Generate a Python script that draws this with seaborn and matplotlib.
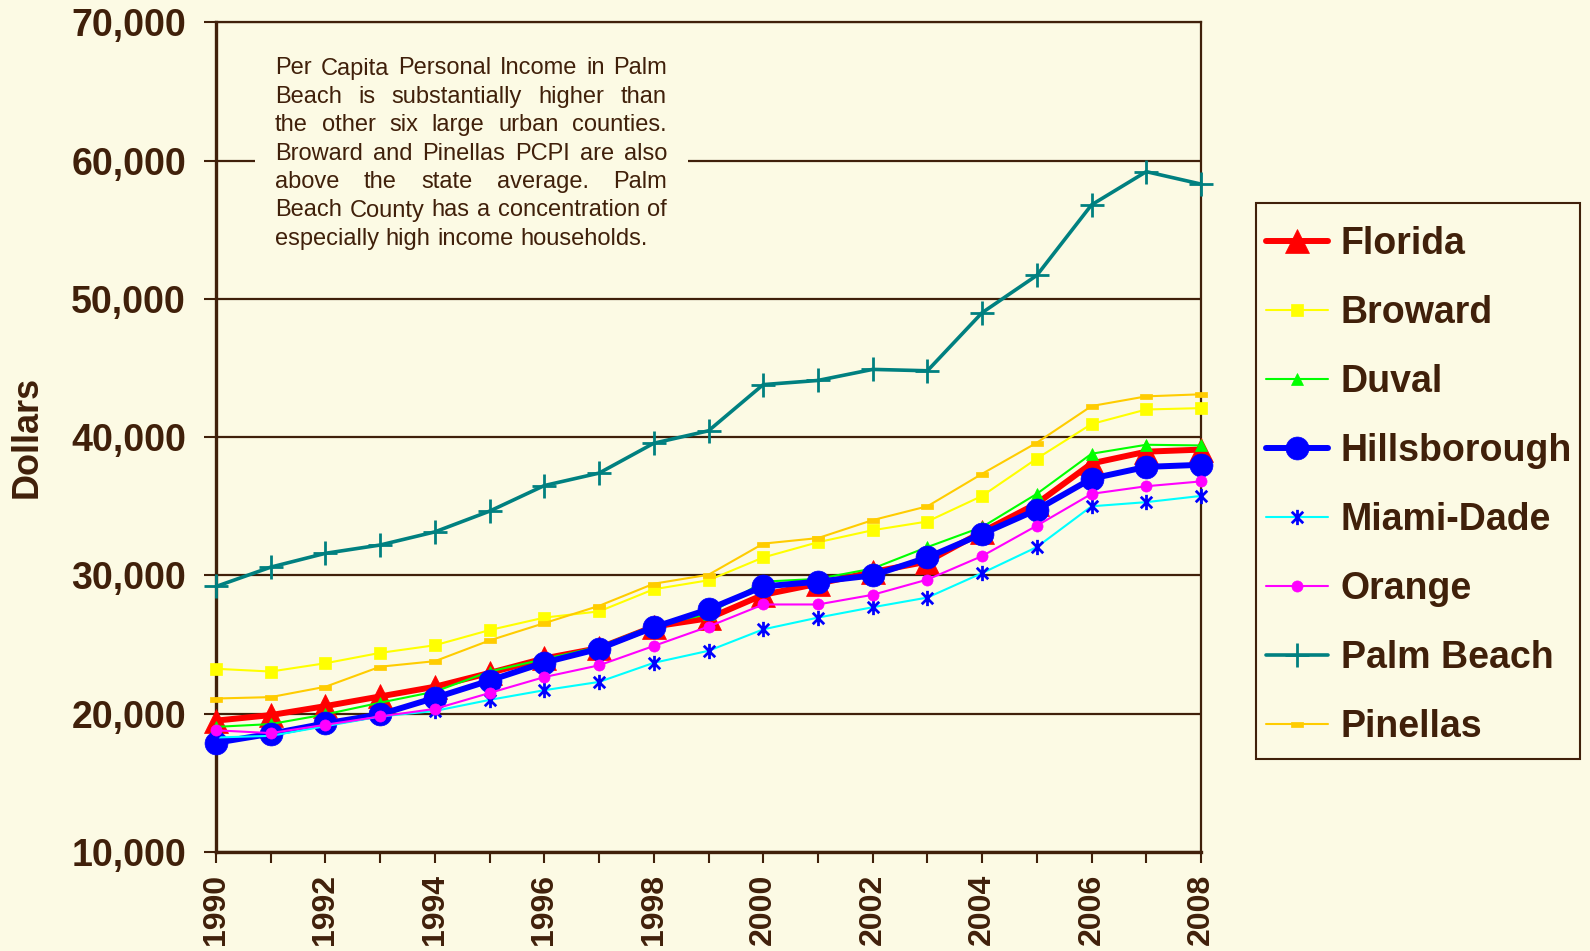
import matplotlib
matplotlib.use('Agg')
import matplotlib.pyplot as plt
import matplotlib.ticker as mticker
from matplotlib.path import Path
from matplotlib.patches import Rectangle
import pandas as pd
import seaborn as sns

# Per capita personal income, 1990-2008
years = list(range(1990, 2009))
florida = [19500, 19900, 20550, 21250, 21950, 22950, 24000, 24750, 26300, 26900,
           28600, 29400, 30250, 31000, 33150, 35200, 38100, 38950, 39100]
broward = [23250, 23050, 23650, 24400, 24950, 26050, 26950, 27400, 29000, 29650,
           31300, 32400, 33270, 33900, 35750, 38450, 40950, 42000, 42100]
duval = [19050, 19250, 19950, 20800, 21600, 23050, 23950, 24850, 26400, 27200,
         29550, 29750, 30500, 32050, 33500, 35900, 38800, 39450, 39400]
hillsborough = [17900, 18550, 19300, 19950, 21150, 22400, 23700, 24700, 26250, 27550,
                29200, 29550, 30000, 31300, 33000, 34750, 37000, 37850, 38000]
miami_dade = [18280, 18400, 19100, 19800, 20200, 21000, 21700, 22300, 23680, 24550,
              26100, 26950, 27700, 28400, 30170, 32050, 35000, 35300, 35750]
orange = [18800, 18600, 19200, 19800, 20350, 21500, 22650, 23500, 24900, 26300,
          27900, 27900, 28600, 29700, 31400, 33600, 35900, 36450, 36800]
palm_beach = [29200, 30600, 31600, 32200, 33150, 34650, 36500, 37400, 39560, 40460,
              43800, 44100, 44900, 44800, 49000, 51700, 56800, 59200, 58300]
pinellas = [21100, 21200, 21950, 23400, 23800, 25300, 26550, 27800, 29400, 30050,
            32300, 32700, 34000, 35000, 37350, 39600, 42250, 42950, 43100]

series_names = ['Florida', 'Broward', 'Duval', 'Hillsborough', 'Miami-Dade',
                'Orange', 'Palm Beach', 'Pinellas']
series_values = [florida, broward, duval, hillsborough, miami_dade,
                 orange, palm_beach, pinellas]

note_lines = ["Per Capita Personal Income in Palm",
              "Beach is substantially higher than",
              "the other six large urban counties.",
              "Broward and Pinellas PCPI are also",
              "above the state average.   Palm",
              "Beach County has a concentration of",
              "especially high income households."]

df = pd.DataFrame({'year': years * len(series_names),
                   'county': [n for n in series_names for _ in years],
                   'income': [v for vals in series_values for v in vals]})

W, H = 1590, 951
BG = '#FCFAE4'
INK = '#40200A'

asterisk = Path([(0, -1), (0, 1), (-0.75, -0.75), (0.75, 0.75), (-0.75, 0.75), (0.75, -0.75)],
                [Path.MOVETO, Path.LINETO, Path.MOVETO, Path.LINETO, Path.MOVETO, Path.LINETO])
dash = Path([(-1, -0.45), (1, -0.45), (1, 0.45), (-1, 0.45), (-1, -0.45)],
            [Path.MOVETO, Path.LINETO, Path.LINETO, Path.LINETO, Path.CLOSEPOLY])

# line colour, marker, marker colour, line width, marker size
styles = {
    'Florida':      ('#FF0000', '^', '#FF0000', 4.3, 17),
    'Broward':      ('#FFFF00', 's', '#FFFF00', 1.5, 8.5),
    'Duval':        ('#00FF00', '^', '#00FF00', 1.5, 9),
    'Hillsborough': ('#0000FF', 'o', '#0000FF', 4.3, 16.5),
    'Miami-Dade':   ('#00FFFF', asterisk, '#0000FF', 1.5, 11),
    'Orange':       ('#FF00FF', 'o', '#FF00FF', 1.5, 8),
    'Palm Beach':   ('#008080', '+', '#008080', 2.6, 17),
    'Pinellas':     ('#FFCC00', dash, '#FFCC00', 1.5, 8),
}

sns.set_style('white')
plt.rcParams['font.family'] = ['Liberation Sans', 'DejaVu Sans']

fig = plt.figure(figsize=(W / 100, H / 100), dpi=100, facecolor=BG)
ax = fig.add_axes([216 / W, 1 - 852 / H, 985 / W, (852 - 22.3) / H])
ax.set_facecolor(BG)

for name in series_names:
    color, marker, mcolor, lw, ms = styles[name]
    sub = df[df['county'] == name]
    sns.lineplot(data=sub, x='year', y='income', ax=ax, label=name, color=color,
                 linewidth=lw, marker=marker, markersize=ms,
                 markerfacecolor=mcolor, markeredgecolor=mcolor,
                 markeredgewidth=2.0 if name in ('Palm Beach', 'Miami-Dade') else 0.5,
                 clip_on=False, zorder=3)

ax.set_xlim(1990, 2008)
ax.set_ylim(10000, 70000)
ax.xaxis.set_major_locator(mticker.MultipleLocator(2))
ax.xaxis.set_minor_locator(mticker.MultipleLocator(1))
ax.yaxis.set_major_locator(mticker.MultipleLocator(10000))
ax.yaxis.set_major_formatter(mticker.StrMethodFormatter('{x:,.0f}'))

ax.grid(axis='y', color=INK, linewidth=1.6)
ax.grid(axis='x', visible=False)
ax.set_axisbelow(True)

for side in ['left', 'bottom']:
    ax.spines[side].set_color(INK)
    ax.spines[side].set_linewidth(2.4)
for side in ['right', 'top']:
    ax.spines[side].set_color(INK)
    ax.spines[side].set_linewidth(1.6)

ax.tick_params(axis='y', which='major', direction='out', length=8.6, width=1.5,
               color=INK, labelcolor=INK, labelsize=27, pad=13, left=True)
ax.tick_params(axis='x', which='both', direction='out', length=7.7, width=1.5,
               color=INK, labelcolor=INK, labelsize=23, pad=8, bottom=True)
for lab in ax.get_yticklabels():
    lab.set_fontweight('bold')
for lab in ax.get_xticklabels():
    lab.set_fontweight('bold')
    lab.set_rotation(90)

ax.set_xlabel('')
ax.set_ylabel('Dollars', fontsize=26, fontweight='bold', color=INK, va='center')
ax.yaxis.set_label_coords(-0.1915, 0.5)

# legend: frame drawn as a plain rectangle behind the axes, entries placed inside it
fig.add_artist(Rectangle((1255.6 / W, 1 - 758.6 / H), (1580 - 1255.6) / W, (758.6 - 203) / H,
                         transform=fig.transFigure, facecolor=BG, edgecolor=INK,
                         linewidth=1.5, zorder=-1))
leg = ax.legend(loc='upper left', bbox_to_anchor=(1265.8 / W, 1 - 226 / H),
                bbox_transform=fig.transFigure, borderaxespad=0, borderpad=0,
                frameon=False, prop={'size': 27, 'weight': 'bold'},
                labelspacing=0.88, handlelength=1.67, numpoints=1, handletextpad=0.33)
for t in leg.get_texts():
    t.set_color(INK)

# note box, justified like the original text block
fig.add_artist(Rectangle((255 / W, 1 - 255 / H), (688 - 255) / W, (255 - 40) / H,
                         transform=fig.transFigure, facecolor=BG, edgecolor='none', zorder=1))
fig.canvas.draw()
renderer = fig.canvas.get_renderer()
fs = 17
left, right = 275, 667
base0, pitch = 74.5, 28.4
for i, line in enumerate(note_lines):
    words = line.split()
    y = 1 - (base0 + i * pitch) / H
    texts = [fig.text(0, y, w, fontsize=fs, color=INK, ha='left', va='baseline', zorder=5)
             for w in words]
    widths = [t.get_window_extent(renderer).width for t in texts]
    if i < len(note_lines) - 1:
        gap = (right - left - sum(widths)) / (len(words) - 1)
    else:
        gap = 0.278 * fs * 100 / 72
    x = left
    for t, w in zip(texts, widths):
        t.set_x(x / W)
        x += w + gap

fig.savefig('out.png', dpi=100, facecolor=BG)
